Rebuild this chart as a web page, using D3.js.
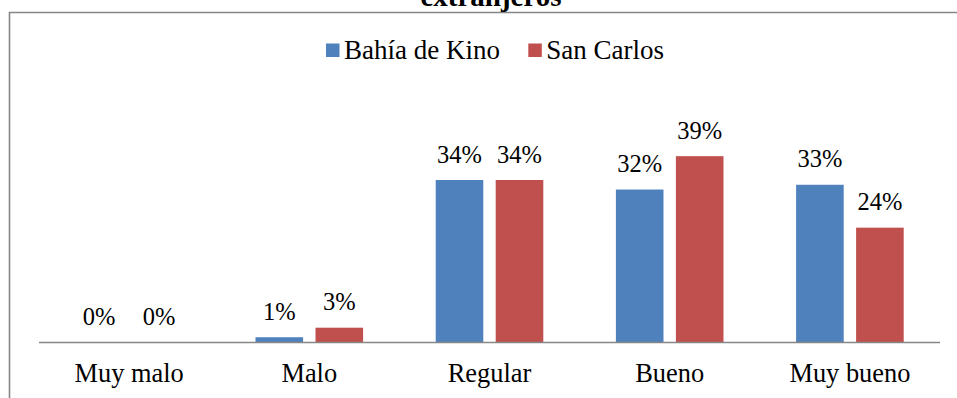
<!DOCTYPE html>
<html>
<head>
<meta charset="utf-8">
<script src="https://cdn.jsdelivr.net/npm/d3@7"></script>
<style>
  html, body { margin: 0; padding: 0; background: #fff; }
  svg { display: block; }
</style>
</head>
<body>
<svg id="chart" width="957" height="398"></svg>
<script>
// Valoración por categoría, en porcentaje
const categories = ["Muy malo", "Malo", "Regular", "Bueno", "Muy bueno"];
const seriesNames = ["Bahía de Kino", "San Carlos"];
const bahiaDeKino = [0, 1, 34, 32, 33];
const sanCarlos = [0, 3, 34, 39, 24];
const seriesColors = ["#4F81BD", "#C0504D"];
const titleText = "extranjeros";

const series = [bahiaDeKino, sanCarlos];
const FONT = "'Liberation Serif', 'Times New Roman', serif";

const svg = d3.select("#chart");
const W = 957, H = 398;
const plot = { left: 39, right: 940, top: 127.6, bottom: 342 };

// Chart frame
svg.append("path")
  .attr("d", `M9.5,${H + 2} V12.5 H${W + 2}`)
  .attr("fill", "none")
  .attr("stroke", "#868686")
  .attr("stroke-width", 1.6);

// Title (last line)
svg.append("text")
  .attr("x", 491)
  .attr("y", 6)
  .attr("text-anchor", "middle")
  .style("font-family", FONT)
  .style("font-weight", "bold")
  .style("font-size", "29px")
  .style("fill", "#000")
  .text(titleText);

const x0 = d3.scaleBand()
  .domain(categories)
  .range([plot.left, plot.right])
  .paddingInner(0)
  .paddingOuter(0);

const barW = 47.6, gap = 12.4;
const x1 = d3.scaleOrdinal()
  .domain(seriesNames)
  .range([-(gap / 2 + barW), gap / 2]);

const y = d3.scaleLinear()
  .domain([0, 45])
  .range([plot.bottom, plot.top]);

// Bars and value labels
seriesNames.forEach((name, si) => {
  const g = svg.append("g");
  const vals = series[si];
  g.selectAll("rect")
    .data(vals)
    .join("rect")
    .attr("x", (d, i) => x0(categories[i]) + x0.bandwidth() / 2 + x1(name))
    .attr("y", d => y(d))
    .attr("width", barW)
    .attr("height", d => y(0) - y(d))
    .attr("fill", seriesColors[si]);
  g.selectAll("text")
    .data(vals)
    .join("text")
    .attr("x", (d, i) => x0(categories[i]) + x0.bandwidth() / 2 + x1(name) + barW / 2)
    .attr("y", d => y(d) - 17.5)
    .attr("text-anchor", "middle")
    .style("font-family", FONT)
    .style("font-size", "24.5px")
    .style("fill", "#000")
    .text(d => d + "%");
});

// Category axis
const xAxis = d3.axisBottom(x0).tickSize(0).tickPadding(0);
const axisG = svg.append("g")
  .attr("transform", `translate(0,${plot.bottom})`)
  .call(xAxis);
axisG.select(".domain")
  .attr("stroke", "#868686")
  .attr("stroke-width", 1.6)
  .attr("d", `M${plot.left},0.5H${plot.right}`);
axisG.selectAll(".tick text")
  .style("font-family", FONT)
  .style("font-size", "26.4px")
  .style("fill", "#000")
  .attr("dy", null)
  .attr("y", 39.5);

// Legend
const legendItems = [
  { name: seriesNames[0], color: seriesColors[0], x: 326 },
  { name: seriesNames[1], color: seriesColors[1], x: 528.3 }
];
const lg = svg.append("g");
legendItems.forEach(it => {
  lg.append("rect")
    .attr("x", it.x)
    .attr("y", 43.5)
    .attr("width", 13.5)
    .attr("height", 13.5)
    .attr("fill", it.color);
  lg.append("text")
    .attr("x", it.x + 18)
    .attr("y", 59.3)
    .style("font-family", FONT)
    .style("font-size", "27px")
    .style("fill", "#000")
    .text(it.name);
});
</script>
</body>
</html>
